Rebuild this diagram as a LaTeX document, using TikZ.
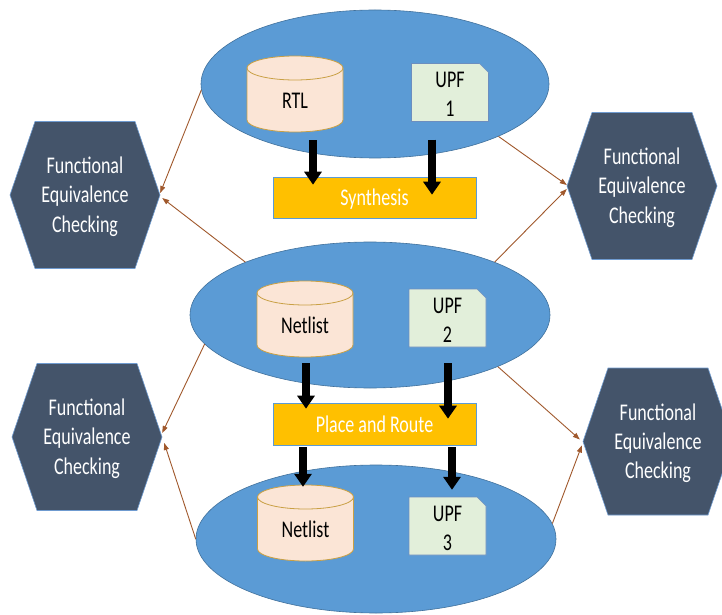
\documentclass[tikz,border=0pt]{standalone}
\usepackage{fontspec}
\setmainfont{Carlito}
\usetikzlibrary{arrows.meta,shapes.geometric}

\definecolor{ellfill}{HTML}{5B9BD5}
\definecolor{ellline}{HTML}{41719C}
\definecolor{cylfill}{HTML}{FBE5D6}
\definecolor{cylline}{HTML}{C9A045}
\definecolor{docfill}{HTML}{E2EFDA}
\definecolor{docline}{HTML}{6C8EBF}
\definecolor{boxfill}{HTML}{FFC000}
\definecolor{boxline}{HTML}{5B9BD5}
\definecolor{hexfill}{HTML}{44546A}
\definecolor{hexline}{HTML}{6F9BD0}
\definecolor{linkcol}{HTML}{A0582C}

% tall, narrow lettering: the face is stretched vertically
\newcommand\tallstack[1]{\scalebox{1}[1.33]{\begin{tabular}{@{}c@{}}#1\end{tabular}}}

\tikzset{
  txt/.style={font=\fontsize{18}{22}\selectfont, align=center, inner sep=0pt},
  stage/.style={ellipse, fill=ellfill, draw=ellline, line width=0.6pt, inner sep=0pt},
  cylshape/.style={fill=cylfill, draw=cylline, line width=0.8pt},
  cylbox/.style={rectangle, inner sep=0pt, minimum width=96pt, minimum height=76pt},
  docshape/.style={fill=docfill, draw=docline, line width=0.6pt},
  docbox/.style={rectangle, inner sep=0pt, minimum width=77pt, minimum height=58pt},
  toolbox/.style={rectangle, fill=boxfill, draw=boxline, line width=0.6pt,
                  minimum width=203pt, minimum height=41pt},
  hexshape/.style={fill=hexfill, draw=hexline, line width=0.6pt},
  hexbox/.style={rectangle, inner sep=0pt, minimum width=150pt, minimum height=147pt},
  bigarrow/.style={line width=8pt, -{Triangle[length=13pt,width=17pt]}},
  link/.style={draw=linkcol, line width=0.9pt, -{Triangle[length=7pt,width=5pt]}, fill=none},
}

% database cylinder: name, centre, label
\newcommand\dbcylinder[3]{%
  \path (#2) coordinate (#1-c);
  \filldraw[cylshape] (#1-c) ++(-48,26) -- ++(0,-52)
    arc[start angle=180,end angle=360,x radius=48,y radius=12] -- ++(0,52)
    arc[start angle=0,end angle=180,x radius=48,y radius=12] -- cycle;
  \draw[cylshape, fill=none] (#1-c) ++(-48,26)
    arc[start angle=180,end angle=360,x radius=48,y radius=12];
  \node[cylbox] (#1) at (#1-c) {};
  \node[txt] (#1-t) at ([yshift=-9]#1-c) {\tallstack{#3}};
}

% document with a clipped corner: name, centre, label
\newcommand\docsheet[3]{%
  \path (#2) coordinate (#1-c);
  \filldraw[docshape] (#1-c) ++(-38.5,-29) -- ++(0,58) -- ++(68,0) -- ++(9,-9) -- ++(0,-49) -- cycle;
  \node[docbox] (#1) at (#1-c) {};
  \node[txt] (#1-t) at ([yshift=-4]#1-c) {\tallstack{#3}};
}

% stretched hexagon: name, centre, label
\newcommand\checkhex[3]{%
  \path (#2) coordinate (#1-c);
  \filldraw[hexshape] (#1-c) ++(-75,0) -- ++(25,73.5) -- ++(100,0) -- ++(25,-73.5)
    -- ++(-25,-73.5) -- ++(-100,0) -- cycle;
  \node[hexbox] (#1) at (#1-c) {};
  \node[txt, text=white] (#1-t) at ([yshift=-2]#1-c) {\tallstack{#3}};
}

\begin{document}
\begin{tikzpicture}[x=1pt,y=1pt]
\clip (0,0) rectangle (722,614);
\fill[white] (0,0) rectangle (722,614);

% the three design stages
\node[stage, minimum width=348pt, minimum height=148pt] (e1) at (375,530) {};
\node[stage, minimum width=360pt, minimum height=146pt] (e2) at (370,299) {};
\node[stage, minimum width=360pt, minimum height=148pt] (e3) at (376,75) {};

% stage contents
\dbcylinder{rtl}{295,520}{RTL}
\docsheet{upfa}{450,521.5}{UPF\\1}
\dbcylinder{neta}{305,295}{Netlist}
\docsheet{upfb}{447.5,296}{UPF\\2}
\dbcylinder{netb}{305.5,91}{Netlist}
\docsheet{upfc}{447.5,88}{UPF\\3}
\coordinate (upfc-in) at ([yshift=9]upfc.north);

% implementation steps
\node[toolbox] (syn) at (374.5,416.5) {};
\node[txt, text=white] (syn-t) at ([yshift=-2.5]syn.center) {\tallstack{Synthesis}};
\node[toolbox, minimum height=42pt] (pnr) at (374.5,190) {};
\node[txt, text=white] (pnr-t) at ([yshift=-3]pnr.center) {\tallstack{Place and Route}};

% equivalence checks
\checkhex{hla}{85,419}{Functional\\Equivalence\\Checking}
\checkhex{hra}{642,428}{Functional\\Equivalence\\Checking}
\checkhex{hlb}{87,177}{Functional\\Equivalence\\Checking}
\checkhex{hrb}{658,172.5}{Functional\\Equivalence\\Checking}

% flow arrows
\draw[bigarrow] ([shift={(18,-8)}]rtl.south) -- ([shift={(18,-8)}]rtl.south |- syn.north);
\draw[bigarrow] ([shift={(-18,-18)}]upfa.south) -- ([shift={(-18,-18)}]upfa.south |- syn.north);
\draw[bigarrow] ([shift={(1,-6)}]neta.south) -- ([shift={(1,-6)}]neta.south |- pnr.north);
\draw[bigarrow] ([shift={(0.5,-16)}]upfb.south) -- ([shift={(0.5,-16)}]upfb.south |- pnr.north);
\draw[bigarrow] ([shift={(-71.5,-2)}]pnr.south) -- ([shift={(-71.5,-2)}]pnr.south |- netb.north);
\draw[bigarrow] ([shift={(77.5,-2)}]pnr.south) -- ([shift={(77.5,-2)}]pnr.south |- upfc-in);

% links to the checkers
\draw[link] (e1.182) -- ([yshift=2]hla.east);
\draw[link] (e2.157) -- ([shift={(2,-3)}]hla.east);
\draw[link] (e1.-23) -- ([yshift=1]hra.west);
\draw[link] (e2.23) -- ([yshift=-3]hra.west);
\draw[link] (e2.190) -- ([yshift=4]hlb.east);
\draw[link] (e3.180) -- ([shift={(2,-6)}]hlb.east);
\draw[link] (e2.-22) -- ([shift={(-3,2)}]hrb.west);
\draw[link] (e3.5) -- ([shift={(-1,-4)}]hrb.west);
\end{tikzpicture}
\end{document}
